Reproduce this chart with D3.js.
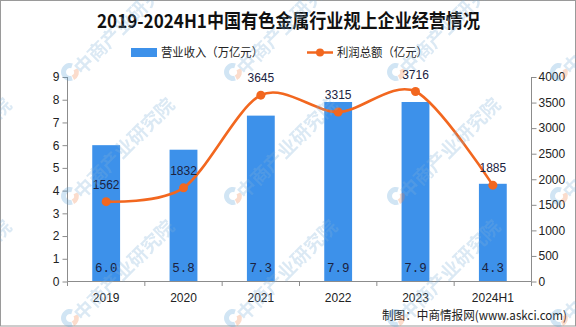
<!DOCTYPE html>
<html><head><meta charset="utf-8">
<script src="https://cdn.jsdelivr.net/npm/d3@7"></script>
<style>
html,body{margin:0;padding:0;background:#fff;}
svg{display:block;}
</style>
</head><body>
<svg id="chart" width="576" height="327"></svg>
<script>
const categories = ["2019","2020","2021","2022","2023","2024H1"];
const revenue = [6.0, 5.8, 7.3, 7.9, 7.9, 4.3];
const profit = [1562, 1832, 3645, 3315, 3716, 1885];
const leftTicks = [0,1,2,3,4,5,6,7,8,9];
const rightTicks = [0,500,1000,1500,2000,2500,3000,3500,4000];
const titleText = "2019-2024H1中国有色金属行业规上企业经营情况";
const legendBar = "营业收入（万亿元）";
const legendLine = "利润总额（亿元）";
const sourceText = "制图：中商情报网(www.askci.com)";
const watermarkText = "中商产业研究院";

(function(){
const W = 576, H = 327;
const pL = 67.5, pR = 531.5, pT = 77, pB = 281.5;
const barColor = "#3d91ea", lineColor = "#f2671f", axisColor = "#8c8c8c", txt = "#222";
const cjk = "'Noto Sans CJK SC','Noto Sans',sans-serif";
const num = "'Liberation Sans','DejaVu Sans',sans-serif";

const svg = d3.select("#chart");
svg.append("rect").attr("x",0.5).attr("y",0.5).attr("width",W-1).attr("height",H-1.5)
  .attr("fill","#fff").attr("stroke","#9a9a9a");

const x = d3.scaleBand().domain(categories).range([pL, pR]).padding(0);
const yL = d3.scaleLinear().domain([0,9]).range([pB, pT]);
const yR = d3.scaleLinear().domain([0,4000]).range([pB, pT]);
const barW = x.bandwidth()*0.36;

// title
svg.append("text").attr("x",288.5).attr("y",28).attr("text-anchor","middle")
  .attr("font-family",cjk).attr("font-weight","bold").attr("font-size",19)
  .attr("textLength",383).attr("lengthAdjust","spacingAndGlyphs")
  .attr("fill","#111").text(titleText);

// legend
svg.append("rect").attr("x",131).attr("y",48).attr("width",26).attr("height",9).attr("fill",barColor);
svg.append("text").attr("x",161).attr("y",57).attr("font-family",cjk).attr("font-size",12)
  .attr("fill",txt).attr("textLength",102).attr("lengthAdjust","spacingAndGlyphs").text(legendBar);
svg.append("line").attr("x1",307).attr("x2",333).attr("y1",52.5).attr("y2",52.5)
  .attr("stroke",lineColor).attr("stroke-width",2.5);
svg.append("circle").attr("cx",320).attr("cy",52.5).attr("r",4).attr("fill",lineColor);
svg.append("text").attr("x",337).attr("y",57).attr("font-family",cjk).attr("font-size",12)
  .attr("fill",txt).attr("textLength",91).attr("lengthAdjust","spacingAndGlyphs").text(legendLine);

// bars
svg.append("g").selectAll("rect").data(categories).join("rect")
  .attr("x",(c)=>x(c)+x.bandwidth()/2-barW/2)
  .attr("y",(c,i)=>yL(revenue[i]))
  .attr("width",barW)
  .attr("height",(c,i)=>pB-yL(revenue[i]))
  .attr("fill",barColor);

// bar labels
svg.append("g").selectAll("text").data(categories).join("text")
  .attr("x",(c)=>x(c)+x.bandwidth()/2)
  .attr("y",yL(0)-10)
  .attr("text-anchor","middle")
  .attr("font-family","'Liberation Mono','DejaVu Sans Mono',monospace")
  .attr("font-size",12.5).attr("fill","#1b2240")
  .text((c,i)=>revenue[i].toFixed(1));

// left axis
const gL = svg.append("g").attr("transform",`translate(${pL},0)`)
  .call(d3.axisLeft(yL).tickValues(leftTicks).tickSize(5).tickPadding(3).tickFormat(d3.format("d")));
// right axis
const gR = svg.append("g").attr("transform",`translate(${pR},0)`)
  .call(d3.axisRight(yR).tickValues(rightTicks).tickSize(5).tickPadding(2).tickFormat(d3.format("d")));
[gL,gR].forEach(g=>{
  g.select(".domain").attr("stroke",axisColor).attr("d", `M0,${pT}V${pB}`);
  g.selectAll(".tick line").attr("stroke",axisColor);
  g.selectAll(".tick text").attr("font-family",num).attr("font-size",12).attr("fill","#222");
});

// x axis
const boundaries = categories.map(c=>x(c)).concat([pR]);
const gX = svg.append("g");
gX.append("line").attr("x1",pL).attr("x2",pR).attr("y1",pB).attr("y2",pB).attr("stroke",axisColor);
gX.selectAll("line.tk").data(boundaries).join("line").attr("class","tk")
  .attr("x1",d=>d).attr("x2",d=>d).attr("y1",pB).attr("y2",pB+4.5).attr("stroke",axisColor);
gX.selectAll("text").data(categories).join("text")
  .attr("x",c=>x(c)+x.bandwidth()/2).attr("y",pB+20)
  .attr("text-anchor","middle").attr("font-family",num).attr("font-size",12).attr("fill","#222")
  .text(c=>c);

// line
const pts = categories.map((c,i)=>[x(c)+x.bandwidth()/2, yR(profit[i])]);
svg.append("path").attr("d", d3.line().curve(d3.curveCardinal.tension(0.1))(pts))
  .attr("fill","none").attr("stroke",lineColor).attr("stroke-width",2.6);
svg.append("g").selectAll("circle").data(pts).join("circle")
  .attr("cx",d=>d[0]).attr("cy",d=>d[1]).attr("r",4.5).attr("fill",lineColor);
svg.append("g").selectAll("text").data(categories).join("text")
  .attr("x",(c)=>x(c)+x.bandwidth()/2)
  .attr("y",(c,i)=>yR(profit[i])-13)
  .attr("text-anchor","middle").attr("font-family",num).attr("font-size",12).attr("fill","#1b2240")
  .text((c,i)=>profit[i]);

// source
svg.append("text").attr("x",567).attr("y",320).attr("text-anchor","end")
  .attr("font-family",cjk).attr("font-size",12.5).attr("fill","#222")
  .attr("textLength",185).attr("lengthAdjust","spacingAndGlyphs").text(sourceText);

// watermarks
const wmX = [-93, 70, 233, 396, 559];
const wmY = [72, 196, 318];
const wm = svg.append("g").attr("opacity",0.28).style("pointer-events","none");
wmY.forEach(yy=>wmX.forEach(xx=>{
  const g = wm.append("g").attr("transform",`translate(${xx},${yy})`);
  g.append("path").attr("d", d3.arc().innerRadius(4).outerRadius(9).startAngle(Math.PI*0.9).endAngle(Math.PI*2.1)())
    .attr("fill","#5aa0d8");
  g.append("path").attr("d", d3.arc().innerRadius(4).outerRadius(9).startAngle(Math.PI*0.35).endAngle(Math.PI*0.85)())
    .attr("fill","#f0834a");
  g.append("text").attr("transform","translate(12,4) rotate(-45)")
    .attr("font-family",cjk).attr("font-weight","bold").attr("font-size",19).attr("fill","#7fb0d8")
    .text(watermarkText);
}));
})();
</script>
</body></html>
